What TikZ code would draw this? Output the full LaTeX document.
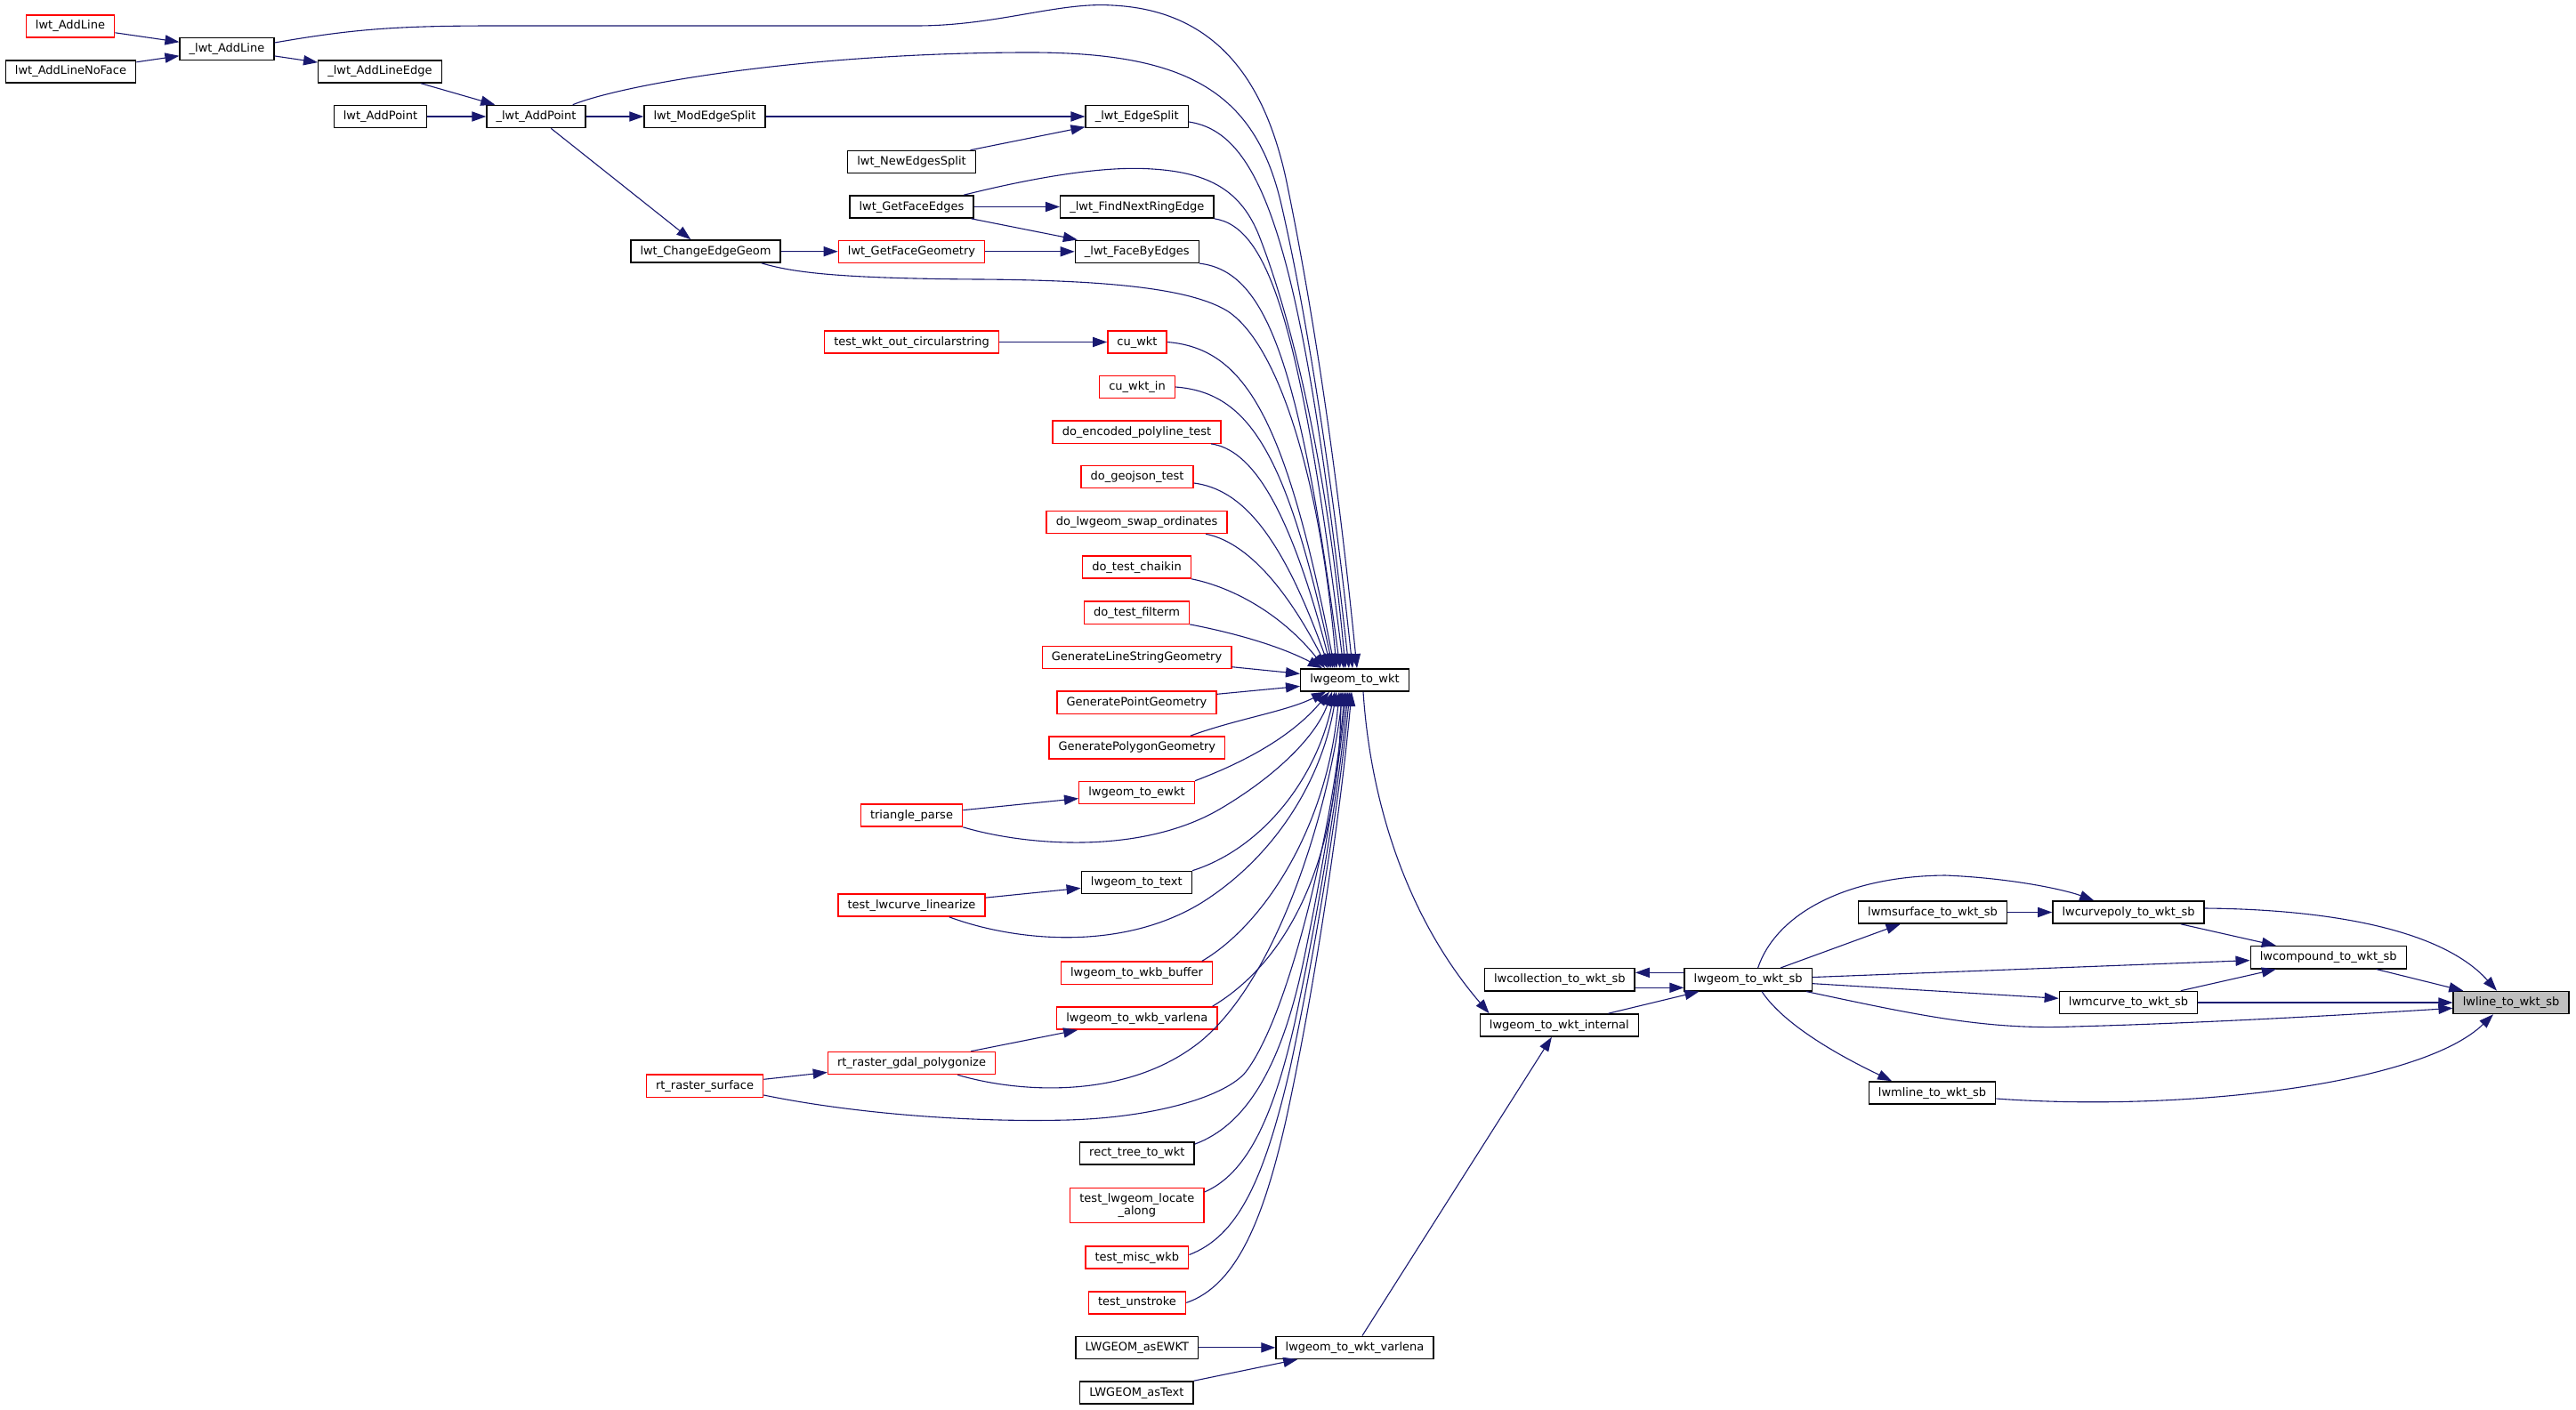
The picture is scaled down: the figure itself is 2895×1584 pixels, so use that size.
\documentclass[tikz,border=0pt]{standalone}
\usepackage{fontspec}
\newfontfamily\nodefont{DejaVu Sans}
\usetikzlibrary{arrows.meta,calc}
\definecolor{edgec}{HTML}{191970}
\definecolor{rootfill}{HTML}{BFBFBF}
\definecolor{boxred}{HTML}{FF0000}
\begin{document}
\begin{tikzpicture}[x=0.5pt,y=0.5pt,
  fnbase/.style={draw=black, line width=0.7pt, fill=white,
    font={\nodefont\fontsize{6.5pt}{7.4pt}\selectfont},
    inner xsep=5.3pt, inner ysep=0pt, minimum height=12.6pt},
  fn/.style={fnbase, text height=5pt, text depth=1.5pt},
  fnred/.style={fn, draw=boxred},
  fnredml/.style={fnbase, draw=boxred, align=center, minimum height=19.4pt},
  fnroot/.style={fn, fill=rootfill},
  call/.style={draw=edgec, line width=0.55pt, -{Triangle[length=8pt,width=5.6pt]}}]
\useasboundingbox (0,0) rectangle (2895,-1584);
\fill[white] (0,0) rectangle (2895,-1584);

% ---- nodes ----
\node[fnred] (aAddLine)   at (79,-29.5)    {lwt\_AddLine};
\node[fn]    (aNoFace)    at (79.5,-80.5)  {lwt\_AddLineNoFace};
\node[fn]    (uAddLine)   at (255,-55)     {\_lwt\_AddLine};
\node[fn]    (uAddLineEdge) at (427,-80.5) {\_lwt\_AddLineEdge};
\node[fn]    (aAddPoint)  at (427.5,-131)  {lwt\_AddPoint};
\node[fn]    (uAddPoint)  at (602.5,-131)  {\_lwt\_AddPoint};
\node[fn]    (modSplit)   at (792,-131)    {lwt\_ModEdgeSplit};
\node[fn]    (changeGeom) at (793,-282.5)  {lwt\_ChangeEdgeGeom};
\node[fn]    (newSplit)   at (1024.5,-182) {lwt\_NewEdgesSplit};
\node[fn]    (getEdges)   at (1024.5,-232.5) {lwt\_GetFaceEdges};
\node[fnred] (getGeom)    at (1024.5,-282.8) {lwt\_GetFaceGeometry};
\node[fnred] (wktOutCirc) at (1024.5,-384.5) {test\_wkt\_out\_circularstring};
\node[fnred] (triParse)   at (1024.5,-916.5) {triangle\_parse};
\node[fnred] (curveLin)   at (1024.5,-1017.5) {test\_lwcurve\_linearize};
\node[fnred] (gdalPoly)   at (1024.5,-1195) {rt\_raster\_gdal\_polygonize};
\node[fnred] (rasterSurf) at (792,-1220.6)  {rt\_raster\_surface};
\node[fn]    (uEdgeSplit) at (1277.7,-131)  {\_lwt\_EdgeSplit};
\node[fn]    (uFindNext)  at (1277.8,-232.5) {\_lwt\_FindNextRingEdge};
\node[fn]    (uFaceBy)    at (1277.8,-282.8) {\_lwt\_FaceByEdges};
\node[fnred] (cuWkt)      at (1278,-384.5)  {cu\_wkt};
\node[fnred] (cuWktIn)    at (1278,-435)    {cu\_wkt\_in};
\node[fnred] (doEnc)      at (1277.5,-485.6) {do\_encoded\_polyline\_test};
\node[fnred] (doGeo)      at (1278,-536)    {do\_geojson\_test};
\node[fnred] (doSwap)     at (1277.5,-587)  {do\_lwgeom\_swap\_ordinates};
\node[fnred] (doChaikin)  at (1277.5,-637.5) {do\_test\_chaikin};
\node[fnred] (doFilterm)  at (1277.5,-688.6) {do\_test\_filterm};
\node[fnred] (genLine)    at (1277.5,-739)  {GenerateLineStringGeometry};
\node[fnred] (genPoint)   at (1277.5,-789.7) {GeneratePointGeometry};
\node[fnred] (genPoly)    at (1277.8,-840.4) {GeneratePolygonGeometry};
\node[fnred] (toEwkt)     at (1277.5,-891)  {lwgeom\_to\_ewkt};
\node[fn]    (toText)     at (1277.3,-992)  {lwgeom\_to\_text};
\node[fnred] (toWkbBuf)   at (1277.5,-1093.7) {lwgeom\_to\_wkb\_buffer};
\node[fnred] (toWkbVar)   at (1277.8,-1144.5) {lwgeom\_to\_wkb\_varlena};
\node[fn]    (rectTree)   at (1277.8,-1296.4) {rect\_tree\_to\_wkt};
\node[fnredml] (locAlong) at (1277.8,-1355) {test\_lwgeom\_locate\\\_along};
\node[fnred] (miscWkb)    at (1277.8,-1413.5) {test\_misc\_wkb};
\node[fnred] (unstroke)   at (1278,-1464.4) {test\_unstroke};
\node[fn]    (asEwkt)     at (1277.8,-1514.8) {LWGEOM\_asEWKT};
\node[fn]    (asText)     at (1277.4,-1565.5) {LWGEOM\_asText};
\node[fn]    (W)          at (1522.5,-764.4) {lwgeom\_to\_wkt};
\node[fn]    (wktVar)     at (1522.5,-1514.8) {lwgeom\_to\_wkt\_varlena};
\node[fn]    (wktInt)     at (1752.3,-1152.5) {lwgeom\_to\_wkt\_internal};
\node[fn]    (collSb)     at (1752.8,-1101.3) {lwcollection\_to\_wkt\_sb};
\node[fn]    (geomSb)     at (1964.6,-1101.3) {lwgeom\_to\_wkt\_sb};
\node[fn]    (msurfSb)    at (2172,-1025.5) {lwmsurface\_to\_wkt\_sb};
\node[fn]    (mlineSb)    at (2171.5,-1228.5) {lwmline\_to\_wkt\_sb};
\node[fn]    (cpolySb)    at (2392,-1025.5) {lwcurvepoly\_to\_wkt\_sb};
\node[fn]    (mcurveSb)   at (2392,-1127)   {lwmcurve\_to\_wkt\_sb};
\node[fn]    (compSb)     at (2616.7,-1076.2) {lwcompound\_to\_wkt\_sb};
\node[fnroot] (lineSb)    at (2822,-1127)   {lwline\_to\_wkt\_sb};

% ---- straight connectors ----
\draw[call] (aAddLine) -- (uAddLine);
\draw[call] (aNoFace) -- (uAddLine);
\draw[call] (uAddLine) -- (uAddLineEdge);
\draw[call] (uAddLineEdge) -- (uAddPoint);
\draw[call] (aAddPoint) -- (uAddPoint);
\draw[call] (uAddPoint) -- (modSplit);
\draw[call] (uAddPoint) -- (changeGeom);
\draw[call] (modSplit) -- (uEdgeSplit);
\draw[call] (newSplit) -- (uEdgeSplit);
\draw[call] (getEdges) -- (uFindNext);
\draw[call] (getEdges) -- (uFaceBy);
\draw[call] (changeGeom) -- (getGeom);
\draw[call] (getGeom) -- (uFaceBy);
\draw[call] (wktOutCirc) -- (cuWkt);
\draw[call] (triParse) -- (toEwkt);
\draw[call] (curveLin) -- (toText);
\draw[call] (gdalPoly) -- (toWkbVar);
\draw[call] (rasterSurf) -- (gdalPoly);
\draw[call] (asEwkt) -- (wktVar);
\draw[call] (asText) -- (wktVar);
\draw[call] (wktVar) -- (wktInt);
\draw[call] ($(genLine.east)+(0,-10.7)$) -- ($(W.west)+(0,7)$);
\draw[call] ($(genPoint.east)+(0,9.4)$) -- ($(W.west)+(0,-7)$);

% ---- fan into lwgeom_to_wkt from above ----
\draw[call] ($(uAddLine.east)+(0,7)$) .. controls (400,-32) and (450,-29) .. (560,-29) -- (1030,-29)
  .. controls (1120,-29) and (1190,-2) .. (1250,-6) .. controls (1380,-12) and (1425,-110) .. (1445,-200)
  .. controls (1470,-320) and (1500,-500) .. ($(W.north)+(2.5,0)$);
\draw[call] ($(uAddPoint.north east)+(-15,0)$) .. controls (700,-95) and (900,-60) .. (1150,-59)
  .. controls (1330,-58) and (1410,-100) .. (1440,-230)
  .. controls (1470,-360) and (1500,-560) .. ($(W.north)+(-2.5,0)$);
\draw[call] ($(uEdgeSplit.east)+(0,-6)$) .. controls (1420,-149.3) and (1463.3,-279.5) .. ($(W.north)+(-6.5,0)$);
\draw[call] ($(getEdges.north east)+(-11.6,0)$) .. controls (1160,-200) and (1240,-186) .. (1295,-190)
  .. controls (1360,-194) and (1395,-215) .. (1415,-265)
  .. controls (1460,-380) and (1495,-560) .. ($(W.north)+(-10.5,0)$);
\draw[call] (uFindNext.south east) .. controls (1425,-255) and (1462,-362) .. ($(W.north)+(-12.5,0)$);
\draw[call] (uFaceBy.south east) .. controls (1421.8,-304.9) and (1459.7,-401.5) .. ($(W.north)+(-16.5,0)$);
\draw[call] ($(changeGeom.south east)+(-22,0)$) .. controls (890,-306) and (940,-313) .. (1100,-314)
  .. controls (1250,-315) and (1340,-325) .. (1380,-350)
  .. controls (1440,-390) and (1485,-550) .. ($(W.north)+(-20.5,0)$);
\draw[call] (cuWkt.east) .. controls (1399.4,-391.8) and (1444.7,-469.6) .. ($(W.north)+(-22.5,0)$);
\draw[call] (cuWktIn.east) .. controls (1403.3,-441.3) and (1446,-508.4) .. ($(W.north)+(-24.5,0)$);
\draw[call] ($(doEnc.south east)+(-11.6,0)$) .. controls (1405,-505) and (1448,-565) .. ($(W.north)+(-26.5,0)$);
\draw[call] ($(doGeo.east)+(0,-7)$) .. controls (1395,-550) and (1440,-600) .. ($(W.north)+(-28.5,0)$);
\draw[call] ($(doSwap.south east)+(-24.4,0)$) .. controls (1395,-608) and (1440,-650) .. ($(W.north)+(-30.5,0)$);
\draw[call] (doChaikin.south east) .. controls (1385,-660) and (1440,-690) .. ($(W.north)+(-33.5,0)$);
\draw[call] (doFilterm.south east) .. controls (1390,-712) and (1440,-727) .. ($(W.north)+(-36.5,0)$);

% ---- fan into lwgeom_to_wkt from below ----
\draw[call] ($(genPoly.north east)+(-39.5,0)$) .. controls (1390,-808) and (1445,-800) .. ($(W.south)+(-32.5,0)$);
\draw[call] (toEwkt.north east) .. controls (1395,-858) and (1450,-830) .. ($(W.south)+(-28.5,0)$);
\draw[call] (triParse.south east) .. controls (1150,-950) and (1280,-962) .. (1370,-910)
  .. controls (1430,-875) and (1478,-830) .. ($(W.south)+(-25.5,0)$);
\draw[call] (toText.north east) .. controls (1415,-955) and (1478,-880) .. ($(W.south)+(-22.5,0)$);
\draw[call] ($(curveLin.south east)+(-41,0)$) .. controls (1140,-1058) and (1260,-1070) .. (1350,-1015)
  .. controls (1430,-965) and (1485,-880) .. ($(W.south)+(-20.5,0)$);
\draw[call] ($(toWkbBuf.north east)+(-12.5,0)$) .. controls (1420,-1040) and (1492,-930) .. ($(W.south)+(-17.5,0)$);
\draw[call] ($(toWkbVar.north east)+(-6,0)$) .. controls (1440,-1085) and (1505,-980) .. ($(W.south)+(-15.5,0)$);
\draw[call] ($(gdalPoly.south east)+(-43,0)$) .. controls (1150,-1230) and (1270,-1235) .. (1350,-1170)
  .. controls (1440,-1095) and (1495,-900) .. ($(W.south)+(-13.5,0)$);
\draw[call] ($(rasterSurf.east)+(0,-10.4)$) .. controls (950,-1250) and (1080,-1262) .. (1200,-1259)
  .. controls (1300,-1256) and (1378,-1232) .. (1400,-1205)
  .. controls (1450,-1140) and (1500,-920) .. ($(W.south)+(-11.5,0)$);
\draw[call] ($(rectTree.north east)+(0,-3)$) .. controls (1400,-1265) and (1440,-1200) .. (1465,-1080)
  .. controls (1490,-960) and (1505,-860) .. ($(W.south)+(-9.5,0)$);
\draw[call] ($(locAlong.east)+(0,15)$) .. controls (1400,-1320) and (1430,-1260) .. (1455,-1150)
  .. controls (1485,-1010) and (1505,-880) .. ($(W.south)+(-7.5,0)$);
\draw[call] ($(miscWkb.east)+(0,3)$) .. controls (1390,-1390) and (1420,-1330) .. (1450,-1200)
  .. controls (1480,-1060) and (1505,-900) .. ($(W.south)+(-5.5,0)$);
\draw[call] (unstroke.east) .. controls (1390,-1445) and (1420,-1370) .. (1445,-1260)
  .. controls (1480,-1100) and (1508,-900) .. ($(W.south)+(-3.5,0)$);

% ---- lwgeom_to_wkt -> internal ----
\draw[call] ($(W.south)+(9.5,0)$) .. controls (1540,-900) and (1580,-1030) .. ($(wktInt.north west)+(11,0)$);

% ---- right cluster ----
\draw[call] ($(geomSb.west)+(0,8)$) -- ($(collSb.east)+(0,8)$);
\draw[call] ($(collSb.east)+(0,-9)$) -- ($(geomSb.west)+(0,-9)$);
\draw[call] (wktInt) -- (geomSb);
\draw[call] (geomSb) -- (msurfSb);
\draw[call] ($(geomSb.north)+(11,0)$) .. controls (1995,-1030) and (2070,-985) .. (2186,-984)
  .. controls (2260,-987) and (2320,-1000) .. ($(cpolySb.north west)+(47,0)$);
\draw[call] (geomSb) -- (compSb);
\draw[call] (geomSb) -- (mcurveSb);
\draw[call] ($(geomSb.south east)+(-6.7,0)$) .. controls (2150,-1140) and (2230,-1158) .. (2330,-1154)
  .. controls (2480,-1150) and (2650,-1140) .. ($(lineSb.west)+(0,-6.3)$);
\draw[call] ($(geomSb.south)+(15.4,0)$) .. controls (2010,-1160) and (2095,-1200) .. ($(mlineSb.north west)+(26.5,0)$);
\draw[call] (msurfSb) -- (cpolySb);
\draw[call] (cpolySb) -- (compSb);
\draw[call] ($(cpolySb.east)+(0,4.5)$) .. controls (2600,-1022) and (2740,-1040) .. ($(lineSb.north)+(-16,0)$);
\draw[call] (compSb) -- (lineSb);
\draw[call] (mcurveSb) -- (compSb);
\draw[call] (mcurveSb) -- (lineSb);
\draw[call] ($(mlineSb.east)+(0,-6.5)$) .. controls (2450,-1250) and (2720,-1220) .. ($(lineSb.south)+(-20,0)$);
\end{tikzpicture}
\end{document}
